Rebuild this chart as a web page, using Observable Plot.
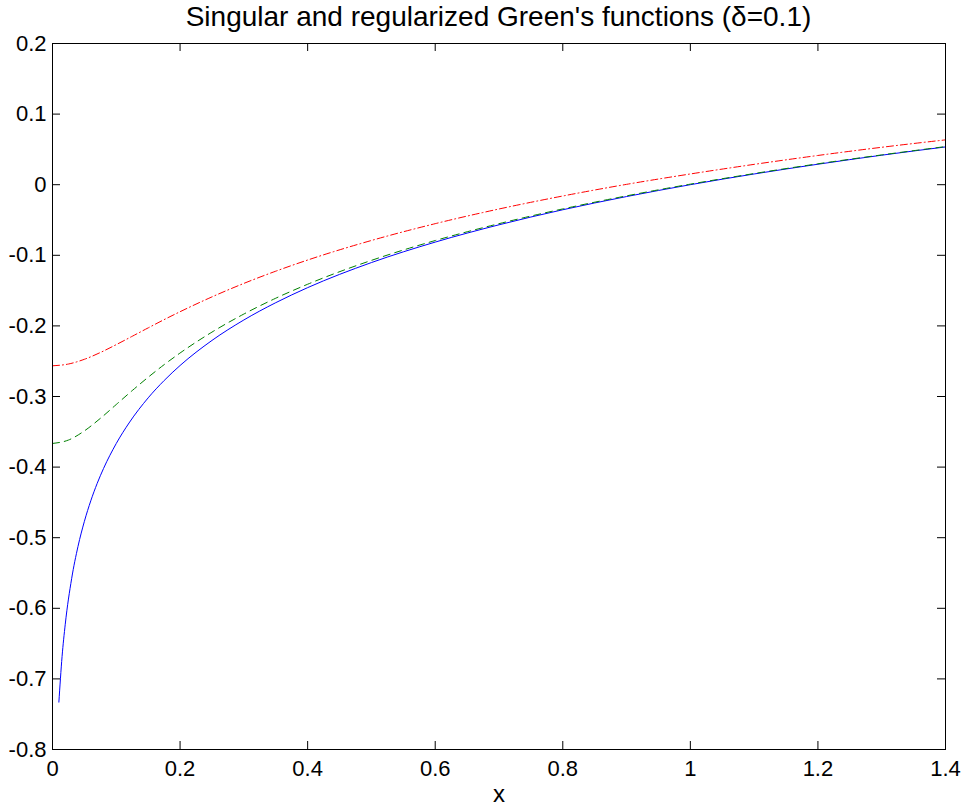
<!DOCTYPE html>
<html>
<head>
<meta charset="utf-8">
<script src="https://cdn.jsdelivr.net/npm/d3@7"></script>
<script src="https://cdn.jsdelivr.net/npm/@observablehq/plot@0.6"></script>
<style>
  html, body { margin: 0; padding: 0; background: #ffffff; }
  #wrap { position: relative; width: 961px; height: 807px; }
  #title {
    position: absolute; left: 0; top: 0;
    width: 961px; height: 34px; line-height: 34px; box-sizing: border-box;
    padding-left: 36px; text-align: center;
    font-family: "Liberation Sans", Arial, sans-serif; font-size: 28px; color: #000;
    white-space: nowrap; z-index: 2;
  }
  #chart { position: absolute; left: 0; top: 0; }
</style>
</head>
<body>
<div id="wrap">
<div id="chart"></div>
<div id="title">Singular and regularized Green's functions (δ=0.1)</div>
</div>
<script>
// ---- data ----
const xBlue = [0.01, 0.015, 0.02, 0.03, 0.04, 0.05, 0.06, 0.07, 0.08, 0.1, 0.12, 0.15, 0.175, 0.2, 0.25, 0.3, 0.35, 0.4, 0.5, 0.6, 0.7, 0.8, 0.9, 1.0, 1.1, 1.2, 1.3, 1.4];
const yBlue = [-0.7329, -0.6684, -0.6226, -0.5581, -0.5123, -0.4768, -0.4478, -0.4232, -0.4020, -0.3665, -0.3375, -0.3019, -0.2774, -0.2561, -0.2206, -0.1916, -0.1671, -0.1458, -0.1103, -0.0813, -0.0568, -0.0355, -0.0168, 0.0000, 0.0152, 0.0290, 0.0418, 0.0535];

const xGreen = [0, 0.025, 0.05, 0.075, 0.1, 0.125, 0.15, 0.175, 0.2, 0.25, 0.3, 0.35, 0.4, 0.5, 0.6, 0.7, 0.8, 0.9, 1.0, 1.1, 1.2, 1.3, 1.4];
const yGreen = [-0.3665, -0.3617, -0.3487, -0.3310, -0.3113, -0.2916, -0.2727, -0.2549, -0.2384, -0.2088, -0.1832, -0.1608, -0.1410, -0.1072, -0.0791, -0.0552, -0.0343, -0.0158, 0.0008, 0.0158, 0.0296, 0.0422, 0.0540];

const xRed = [0, 0.025, 0.05, 0.075, 0.1, 0.125, 0.15, 0.175, 0.2, 0.25, 0.3, 0.35, 0.4, 0.5, 0.6, 0.7, 0.8, 0.9, 1.0, 1.1, 1.2, 1.3, 1.4];
const yRed = [-0.2565, -0.2540, -0.2473, -0.2377, -0.2265, -0.2147, -0.2028, -0.1911, -0.1799, -0.1589, -0.1398, -0.1225, -0.1067, -0.0790, -0.0552, -0.0344, -0.0160, 0.0005, 0.0152, 0.0288, 0.0414, 0.0530, 0.0635];

const xTicks = [0, 0.2, 0.4, 0.6, 0.8, 1.0, 1.2, 1.4];
const xTickLabels = ["0", "0.2", "0.4", "0.6", "0.8", "1", "1.2", "1.4"];
const yTicks = [-0.8, -0.7, -0.6, -0.5, -0.4, -0.3, -0.2, -0.1, 0, 0.1, 0.2];
const yTickLabels = ["-0.8", "-0.7", "-0.6", "-0.5", "-0.4", "-0.3", "-0.2", "-0.1", "0", "0.1", "0.2"];

const xLabel = "x";

// ---- layout ----
const width = 961, height = 807;
const mt = 43, mr = 16, mb = 58, ml = 52;
const xDomain = [0, 1.4], yDomain = [-0.8, 0.2];
const innerW = width - ml - mr, innerH = height - mt - mb;
const tickPx = 8;
const tx = tickPx * (xDomain[1] - xDomain[0]) / innerW;
const ty = tickPx * (yDomain[1] - yDomain[0]) / innerH;

const rows = (xs, ys) => xs.map((x, i) => ({x, y: ys[i]}));

const chart = Plot.plot({
  width, height,
  marginTop: mt, marginRight: mr, marginBottom: mb, marginLeft: ml,
  style: {fontFamily: "'Liberation Sans', Arial, sans-serif", fontSize: "22px", color: "#000", background: "#fff"},
  x: {domain: xDomain, axis: null},
  y: {domain: yDomain, axis: null},
  marks: [
    Plot.line(rows(xBlue, yBlue), {x: "x", y: "y", stroke: "#0000ff", strokeWidth: 1, curve: "monotone-x"}),
    Plot.line(rows(xGreen, yGreen), {x: "x", y: "y", stroke: "#008000", strokeWidth: 1, strokeDasharray: "7,5", curve: "monotone-x"}),
    Plot.line(rows(xRed, yRed), {x: "x", y: "y", stroke: "#ff0000", strokeWidth: 1, strokeDasharray: "7,3,1,3", curve: "monotone-x"}),
    // inward ticks on all four sides
    Plot.ruleX(xTicks, {x: d => d, y1: yDomain[0], y2: yDomain[0] + ty, stroke: "#000", strokeWidth: 1}),
    Plot.ruleX(xTicks, {x: d => d, y1: yDomain[1], y2: yDomain[1] - ty, stroke: "#000", strokeWidth: 1}),
    Plot.ruleY(yTicks, {y: d => d, x1: xDomain[0], x2: xDomain[0] + tx, stroke: "#000", strokeWidth: 1}),
    Plot.ruleY(yTicks, {y: d => d, x1: xDomain[1], x2: xDomain[1] - tx, stroke: "#000", strokeWidth: 1}),
    Plot.frame({stroke: "#000", strokeWidth: 1}),
    Plot.axisX(xTicks, {anchor: "bottom", tickSize: 0, tickPadding: 11, tickFormat: (d) => xTickLabels[xTicks.indexOf(d)], label: null, fill: "#000"}),
    Plot.axisY(yTicks, {anchor: "left", tickSize: 0, tickPadding: 6, tickFormat: (d) => yTickLabels[yTicks.indexOf(d)], label: null, fill: "#000"}),
    Plot.text([xLabel], {text: d => d, frameAnchor: "bottom", dy: 45, fontSize: 24, lineAnchor: "middle", fill: "#000"})
  ]
});
document.getElementById("chart").appendChild(chart);
</script>
</body>
</html>
